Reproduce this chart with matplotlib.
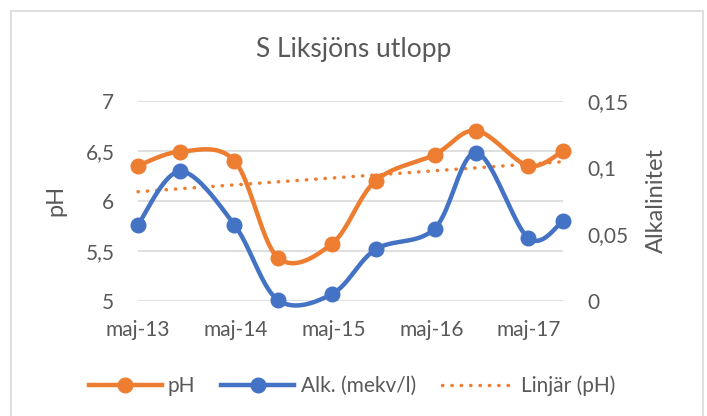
import datetime as dt
import numpy as np
import matplotlib
matplotlib.use('Agg')
import matplotlib.pyplot as plt
import matplotlib.dates as mdates
from matplotlib.patches import Rectangle

plt.rcParams['font.family'] = ['Lato', 'DejaVu Sans']

# data
dates = [dt.date(2013, 5, 15), dt.date(2013, 10, 20), dt.date(2014, 5, 10),
         dt.date(2014, 10, 20), dt.date(2015, 5, 10), dt.date(2015, 10, 20),
         dt.date(2016, 5, 27), dt.date(2016, 10, 30), dt.date(2017, 5, 12),
         dt.date(2017, 9, 20)]
ph = [6.35, 6.49, 6.40, 5.43, 5.57, 6.20, 6.46, 6.70, 6.35, 6.50]
alk = [0.057, 0.097, 0.057, 0.0005, 0.005, 0.0385, 0.054, 0.111, 0.047, 0.060]
trend_ph = [6.09, 6.39]   # linear trend at first / last date
tick_dates = [dt.date(2013, 5, 15), dt.date(2014, 5, 15), dt.date(2015, 5, 15),
              dt.date(2016, 5, 15), dt.date(2017, 5, 15)]
tick_labels = ['maj-13', 'maj-14', 'maj-15', 'maj-16', 'maj-17']
ph_ticks = [5, 5.5, 6, 6.5, 7]
alk_ticks = [0, 0.05, 0.1, 0.15]

ORANGE = '#ED7D31'
BLUE = '#4472C4'
GREY = '#595959'


def fmt(v):
    return ('%g' % v).replace('.', ',')


def smooth(xs, ys, sx, sy, n=40):
    # excel style smoothed line: bezier with control points from neighbours
    P = np.column_stack([np.asarray(xs) * sx, np.asarray(ys) * sy])
    E = np.vstack([P[0], P, P[-1]])
    t = np.linspace(0, 1, n)[:, None]
    out = []
    for i in range(len(P) - 1):
        p0, p1 = E[i + 1], E[i + 2]
        c1 = p0 + (E[i + 2] - E[i]) / 6
        c2 = p1 - (E[i + 3] - E[i + 1]) / 6
        seg = (1 - t)**3 * p0 + 3 * (1 - t)**2 * t * c1 + 3 * (1 - t) * t**2 * c2 + t**3 * p1
        out.append(seg if i == 0 else seg[1:])
    out = np.vstack(out)
    return out[:, 0] / sx, out[:, 1] / sy


fig = plt.figure(figsize=(7.07, 4.16), dpi=100)
L, R, B, T = 138 / 707, 563.3 / 707, 1 - 300.7 / 416, 1 - 100.7 / 416
ax = fig.add_axes([L, B, R - L, T - B])
ax2 = ax.twinx()

xn = mdates.date2num(dates)
xmin, xmax = xn[0], xn[-1]
w_px = (R - L) * 707
h_px = (T - B) * 416
sx = w_px / (xmax - xmin)

ax.set_xlim(xmin, xmax)
ax.set_ylim(5, 7)
ax2.set_ylim(0, 0.15)

# pH
cx, cy = smooth(xn, ph, sx, h_px / 2)
ax.plot(cx, cy, color=ORANGE, lw=3.2, solid_capstyle='round', clip_on=False, zorder=3)
ax.plot(xn, ph, 'o', color=ORANGE, ms=10.5, clip_on=False, zorder=4)
ax.plot([xn[0], xn[-1]], trend_ph, color=ORANGE, lw=2.5, ls=(0, (0.1, 2.6)),
        dash_capstyle='round', clip_on=False, zorder=2)

# alkalinity
cx, cy = smooth(xn, alk, sx, h_px / 0.15)
ax2.plot(cx, cy, color=BLUE, lw=3.2, solid_capstyle='round', clip_on=False, zorder=3)
ax2.plot(xn, alk, 'o', color=BLUE, ms=10.5, clip_on=False, zorder=4)

ax.set_xticks(mdates.date2num(tick_dates))
ax.set_xticklabels(tick_labels)
ax.set_yticks(ph_ticks)
ax.set_yticklabels([fmt(v) for v in ph_ticks])
ax2.set_yticks(alk_ticks)
ax2.set_yticklabels([fmt(v) for v in alk_ticks])

ax.grid(axis='y', color='#D9D9D9', lw=1.2)
ax.set_axisbelow(True)
for a in (ax, ax2):
    for s in a.spines.values():
        s.set_visible(False)
ax.tick_params(axis='x', length=0, pad=14, labelsize=15, labelcolor=GREY)
ax.tick_params(axis='y', length=0, pad=17, labelsize=15, labelcolor=GREY)
ax2.tick_params(axis='y', length=0, pad=17, labelsize=15, labelcolor=GREY)

ax.set_ylabel('pH', fontsize=17, color=GREY, labelpad=14)
ax2.set_ylabel('Alkalinitet', fontsize=17, color=GREY, labelpad=13)

fig.text(0.5, 1 - 50 / 416, 'S Liksjöns utlopp', ha='center', va='center',
         fontsize=19, color=GREY)

h1 = plt.Line2D([], [], color=ORANGE, lw=3.2, marker='o', ms=10.5, markevery=[1])
h2 = plt.Line2D([], [], color=BLUE, lw=3.2, marker='o', ms=10.5, markevery=[1])
h3 = plt.Line2D([], [], color=ORANGE, lw=2.5, ls=(0, (0.1, 2.6)), dash_capstyle='round')
fig.legend([h1, h2, h3], ['pH', 'Alk. (mekv/l)', 'Linjär (pH)'], loc='center',
           bbox_to_anchor=(352 / 707, 1 - 386 / 416), ncol=3, frameon=False,
           fontsize=15, handlelength=3.5, handletextpad=0.3, columnspacing=1.25,
           labelcolor=GREY)

fig.add_artist(Rectangle((11 / 707, -10 / 416), 692 / 707, 415 / 416,
                         transform=fig.transFigure, fill=False,
                         edgecolor='#D9D9D9', lw=1.2))

fig.savefig('out.png', dpi=100)
